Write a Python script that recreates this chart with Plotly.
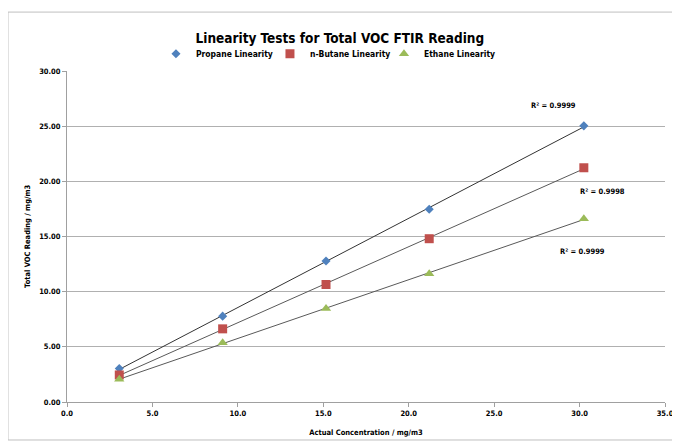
import numpy as np
import plotly.graph_objects as go

# Data
x_conc = [3.06, 9.11, 15.16, 21.2, 30.25]
propane = [3.03, 7.78, 12.78, 17.47, 25.03]
butane = [2.45, 6.63, 10.65, 14.8, 21.23]
ethane = [2.06, 5.36, 8.47, 11.63, 16.6]
series_names = ["Propane Linearity", "n-Butane Linearity", "Ethane Linearity"]
r2_labels = ["R² = 0.9999", "R² = 0.9998", "R² = 0.9999"]
x_ticks = [0, 5, 10, 15, 20, 25, 30, 35]
y_ticks = [0, 5, 10, 15, 20, 25, 30]

FONT = "DejaVu Sans Condensed, Liberation Sans Narrow, sans-serif"
colors = ["#4F81BD", "#C0504D", "#9BBB59"]
symbols = ["diamond", "square", "triangle-up"]
msizes = [7, 9, 9]
line_colors = ["#333333", "#595959", "#595959"]

fig = go.Figure()
series = [propane, butane, ethane]
for i, ys in enumerate(series):
    m, b = np.polyfit(x_conc, ys, 1)
    xs = [min(x_conc), max(x_conc)]
    fig.add_trace(go.Scatter(
        x=xs, y=[m * v + b for v in xs], mode="lines",
        line=dict(color=line_colors[i], width=1), showlegend=False, hoverinfo="skip"))
for i, ys in enumerate(series):
    fig.add_trace(go.Scatter(
        x=x_conc, y=ys, mode="markers", name="<b>" + series_names[i] + "</b>",
        marker=dict(symbol=symbols[i], size=msizes[i], color=colors[i])))

# R² label positions (data coords)
r2_pos = [(28.48, 26.86), (31.37, 19.06), (30.19, 13.67)]
for (ax, ay), txt in zip(r2_pos, r2_labels):
    fig.add_annotation(x=ax, y=ay, text="<b>" + txt + "</b>", showarrow=False,
                       font=dict(size=7.5, color="black", family=FONT))

# y-axis title
fig.add_annotation(x=-0.077, y=0.5, xref="paper", yref="paper",
                   text="<b>Total VOC Reading / mg/m3</b>", textangle=-90,
                   showarrow=False, font=dict(size=7.5, color="black", family=FONT))

# chart border
fig.add_shape(type="rect", xref="paper", yref="paper",
              x0=-0.0987, x1=1.0184, y0=-0.1148, y1=1.178,
              line=dict(color="#bfbfbf", width=1), layer="below")

fig.update_layout(
    width=680, height=446,
    margin=dict(l=59, r=23, t=63, b=52, autoexpand=False),
    paper_bgcolor="white", plot_bgcolor="white",
    font=dict(family=FONT, color="black"),
    title=dict(text="<b>Linearity Tests for Total VOC FTIR Reading</b>",
               x=0.488, xanchor="center", xref="container", y=0.9327, yanchor="middle",
               font=dict(size=13.5, family=FONT, color="black")),
    legend=dict(orientation="h", x=0.2176, xanchor="left", xref="container",
                y=1.052, yanchor="middle", font=dict(size=8.5, family=FONT),
                itemwidth=30, tracegroupgap=0, entrywidth=69),
    xaxis=dict(range=[0, 35], tickvals=x_ticks, automargin=False,
               ticktext=["<b>%.1f</b>" % v for v in x_ticks],
               showgrid=False, zeroline=False, showline=True, linecolor="#a0a0a0",
               ticks="outside", ticklen=4, tickcolor="#a0a0a0",
               tickfont=dict(size=7.5, family=FONT),
               title=dict(text="<b>Actual Concentration / mg/m3</b>", font=dict(size=7.5, family=FONT), standoff=12)),
    yaxis=dict(range=[0, 30], tickvals=y_ticks, automargin=False,
               ticktext=["<b>%.2f</b>" % v for v in y_ticks],
               showgrid=True, gridcolor="#b0b0b0", gridwidth=1, zeroline=False,
               showline=True, linecolor="#a0a0a0",
               ticks="outside", ticklen=4, tickcolor="#a0a0a0",
               tickfont=dict(size=7.5, family=FONT)),
)

fig.write_html("out.html")
